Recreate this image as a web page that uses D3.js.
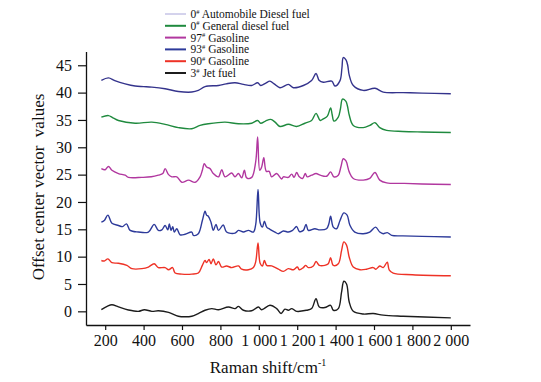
<!DOCTYPE html>
<html>
<head>
<meta charset="utf-8">
<script src="https://cdn.jsdelivr.net/npm/d3@7"></script>
<style>
  html, body { margin: 0; padding: 0; background: #fff; }
  svg { display: block; }
  text { font-family: "Liberation Serif", "Times New Roman", serif; fill: #111; }
</style>
</head>
<body>
<svg id="chart" width="541" height="382"></svg>
<script>
// ---- Data ----
const xTicks = [200, 400, 600, 800, 1000, 1200, 1400, 1600, 1800, 2000];
const yTicks = [0, 5, 10, 15, 20, 25, 30, 35, 40, 45];

const seriesNames = ["0# Automobile Diesel fuel", "0# General diesel fuel", "97# Gasoline", "93# Gasoline", "90# Gasoline", "3# Jet fuel"];

const autoDiesel = [[180,42.25],[217,42.7],[250,42.2],[304,41.6],[356,41.2],[400,41.1],[443,41.0],[512,40.7],[581,40.2],[651,40.1],[685,40.4],[720,41.1],[790,41.3],[830,41.6],[876,41.8],[920,41.5],[963,41.3],[994,41.8],[1010,41.3],[1035,41.7],[1058,42.1],[1080,41.6],[1110,40.9],[1154,41.5],[1180,40.9],[1232,41.3],[1275,42.2],[1298,43.5],[1315,42.2],[1336,41.9],[1380,42.1],[1397,41.2],[1423,42.2],[1433,44.5],[1440,46.4],[1454,46.0],[1463,45.0],[1471,43.2],[1492,41.3],[1544,40.4],[1605,40.8],[1648,40.1],[1752,40.0],[1850,39.9],[2000,39.8]];

const generalDiesel = [[180,35.5],[217,35.8],[240,35.4],[269,34.9],[356,34.4],[443,34.6],[512,34.2],[581,33.6],[651,33.4],[694,34.0],[737,34.3],[824,34.6],[894,34.3],[963,34.4],[994,34.9],[1010,34.4],[1035,34.8],[1062,35.1],[1085,34.6],[1110,33.8],[1154,34.2],[1197,33.8],[1240,34.4],[1275,34.9],[1298,36.2],[1320,34.9],[1336,35.2],[1357,35.7],[1374,37.2],[1382,36.0],[1391,34.8],[1414,35.5],[1425,37.0],[1436,38.8],[1454,38.4],[1462,37.5],[1471,35.9],[1492,34.0],[1544,33.6],[1578,34.0],[1605,34.5],[1630,33.6],[1666,33.1],[1750,32.9],[1850,32.8],[2000,32.7]];

const gasoline97 = [[180,26.1],[200,25.9],[217,26.5],[235,25.8],[269,25.2],[304,24.9],[321,24.5],[391,24.5],[440,24.6],[477,24.9],[500,25.2],[512,26.1],[530,25.0],[547,24.6],[573,24.6],[599,23.6],[634,24.0],[668,23.6],[694,24.6],[706,25.8],[716,27.0],[728,26.4],[746,26.1],[763,25.2],[790,24.6],[807,25.9],[824,24.6],[859,25.3],[876,24.6],[894,25.2],[911,24.4],[925,25.8],[937,24.4],[963,24.5],[984,27.4],[994,31.9],[1005,25.8],[1015,26.4],[1026,28.1],[1039,25.6],[1054,25.6],[1067,24.6],[1093,25.2],[1119,24.2],[1128,24.6],[1154,24.5],[1171,25.1],[1184,24.5],[1197,25.4],[1211,24.6],[1228,24.3],[1242,25.2],[1252,24.6],[1275,24.9],[1298,25.2],[1320,24.9],[1353,24.7],[1374,25.5],[1391,24.6],[1414,24.9],[1428,26.5],[1440,27.9],[1454,27.5],[1471,25.5],[1492,24.3],[1544,24.0],[1578,24.3],[1605,25.4],[1630,24.0],[1666,23.5],[1750,23.4],[1850,23.3],[2000,23.2]];

const gasoline93 = [[180,16.3],[195,16.6],[214,17.6],[235,16.1],[269,15.7],[290,15.5],[311,16.0],[330,14.8],[373,14.5],[425,14.5],[455,15.9],[477,14.8],[495,14.9],[512,15.7],[526,14.9],[534,16.0],[543,14.8],[552,15.5],[560,14.5],[573,15.1],[590,14.0],[616,14.1],[651,14.5],[659,13.9],[685,14.2],[706,16.6],[720,18.3],[728,17.6],[737,17.4],[751,16.3],[763,14.8],[777,15.9],[790,14.8],[815,15.8],[832,14.5],[876,14.3],[894,14.8],[920,14.5],[946,14.8],[972,14.5],[984,15.9],[996,22.3],[1007,16.2],[1019,15.4],[1029,16.5],[1041,15.4],[1058,15.0],[1084,14.5],[1102,14.2],[1128,14.7],[1154,14.5],[1176,14.8],[1197,15.5],[1211,14.6],[1232,14.8],[1246,15.9],[1258,14.8],[1292,15.1],[1318,14.9],[1353,15.1],[1365,16.0],[1374,17.4],[1388,15.4],[1405,15.1],[1423,16.6],[1443,18.0],[1460,17.6],[1474,15.8],[1500,14.5],[1544,14.2],[1578,14.5],[1608,15.4],[1630,14.5],[1648,14.2],[1669,14.4],[1692,13.9],[1750,13.8],[1850,13.7],[2000,13.6]];

const gasoline90 = [[180,9.3],[195,9.2],[214,9.6],[235,8.9],[269,8.8],[313,8.4],[339,7.8],[391,7.8],[425,8.1],[455,8.7],[477,8.0],[512,8.0],[530,7.6],[551,8.0],[564,7.0],[599,6.8],[651,6.8],[685,7.0],[706,8.4],[720,9.3],[728,8.9],[741,9.5],[751,8.7],[763,9.6],[777,8.5],[790,9.1],[807,8.1],[832,8.3],[859,8.0],[894,8.3],[911,7.7],[946,7.6],[972,8.0],[984,9.1],[996,12.5],[1007,8.8],[1019,8.3],[1029,9.3],[1041,8.4],[1067,8.3],[1102,7.7],[1128,7.3],[1154,7.8],[1180,7.6],[1201,8.1],[1211,7.6],[1232,8.0],[1244,8.4],[1258,8.0],[1284,8.3],[1298,9.1],[1315,8.4],[1344,8.4],[1362,8.7],[1374,9.8],[1388,8.4],[1414,8.7],[1431,11.1],[1443,12.7],[1457,12.1],[1471,9.9],[1492,8.1],[1527,7.6],[1561,7.7],[1596,8.0],[1610,7.7],[1630,8.3],[1648,8.0],[1669,9.0],[1679,7.6],[1700,7.0],[1800,6.7],[2000,6.5]];

const jetFuel3 = [[180,0.3],[210,0.9],[235,1.2],[269,0.8],[321,0.25],[373,0.0],[404,0.3],[443,0.0],[477,0.1],[530,-0.2],[581,-0.9],[616,-1.0],[651,-0.9],[685,-0.4],[720,0.2],[755,0.5],[790,0.3],[842,0.8],[876,0.5],[894,0.9],[920,0.2],[963,0.1],[998,0.8],[1015,0.3],[1058,1.1],[1093,0.5],[1116,-0.4],[1136,0.4],[1154,0.2],[1171,0.5],[1197,0.0],[1249,0.2],[1275,0.5],[1298,2.3],[1315,0.8],[1344,0.7],[1374,1.1],[1388,0.2],[1414,0.5],[1431,3.5],[1443,5.5],[1457,5.0],[1471,1.7],[1492,0.0],[1544,-0.5],[1596,-0.4],[1648,-0.7],[1752,-0.9],[2000,-1.2]];

const seriesData = [autoDiesel, generalDiesel, gasoline97, gasoline93, gasoline90, jetFuel3];
const seriesColors = ["#34338c", "#1f8a3e", "#b1379f", "#2d3a9a", "#ee3226", "#1c1c1c"];
const legendColors = ["#a9a6da", "#1f8a3e", "#b1379f", "#2d3a9a", "#ee3226", "#1c1c1c"];

// ---- Drawing ----
const svg = d3.select("#chart");
const x = d3.scaleLinear().domain([100, 2100]).range([86, 470]);
const y = d3.scaleLinear().domain([-2.5, 47.5]).range([325, 51.6]);

const fmtX = d => d >= 1000 ? Math.floor(d / 1000) + " " + d3.format("03d")(d % 1000) : String(d);

const gx = svg.append("g").attr("transform", `translate(0,${y(-2.5)})`)
  .call(d3.axisBottom(x).tickValues(xTicks).tickSize(5).tickSizeOuter(0).tickPadding(5).tickFormat(fmtX));
const gy = svg.append("g").attr("transform", `translate(${x(100)},0)`)
  .call(d3.axisLeft(y).tickValues(yTicks).tickSize(8).tickSizeOuter(0).tickPadding(6));

[gx, gy].forEach(g => {
  g.selectAll("path.domain").attr("stroke", "#111").attr("stroke-width", 1.3);
  g.selectAll(".tick line").attr("stroke", "#111").attr("stroke-width", 1.2);
  g.selectAll(".tick text").attr("font-family", "Liberation Serif, serif").attr("font-size", 16).attr("fill", "#111");
});

const line = d3.line().x(d => x(d[0])).y(d => y(d[1])).curve(d3.curveCatmullRom.alpha(0.5));

svg.append("g").selectAll("path").data(seriesData).join("path")
  .attr("d", line)
  .attr("fill", "none")
  .attr("stroke", (d, i) => seriesColors[i])
  .attr("stroke-width", 1.4)
  .attr("stroke-linejoin", "round");

// axis titles
const xt = svg.append("text").attr("x", 268).attr("y", 373).attr("text-anchor", "middle").attr("font-size", 17);
xt.append("tspan").text("Raman shift/cm");
xt.append("tspan").attr("dy", -7).attr("font-size", 10).text("-1");

svg.append("text")
  .attr("transform", `translate(44,${187}) rotate(-90)`)
  .attr("text-anchor", "middle")
  .attr("font-size", 17)
  .attr("xml:space", "preserve")
  .style("white-space", "pre")
  .text("Offset center vector  values");

// legend
const lg = svg.append("g");
const rowY = [14, 25.8, 37.6, 49.4, 61.2, 73];
seriesNames.forEach((name, i) => {
  const yy = rowY[i];
  lg.append("line").attr("x1", 165).attr("x2", 186).attr("y1", yy).attr("y2", yy)
    .attr("stroke", legendColors[i]).attr("stroke-width", i === 0 ? 1 : 2);
  const parts = name.split("#");
  const t = lg.append("text").attr("x", 190.5).attr("y", yy + 4).attr("font-size", 11.5);
  t.append("tspan").text(parts[0]);
  t.append("tspan").attr("dy", -4.5).attr("font-size", 6.5).text("#");
  t.append("tspan").attr("dy", 4.5).text(parts[1]);
});
</script>
</body>
</html>
